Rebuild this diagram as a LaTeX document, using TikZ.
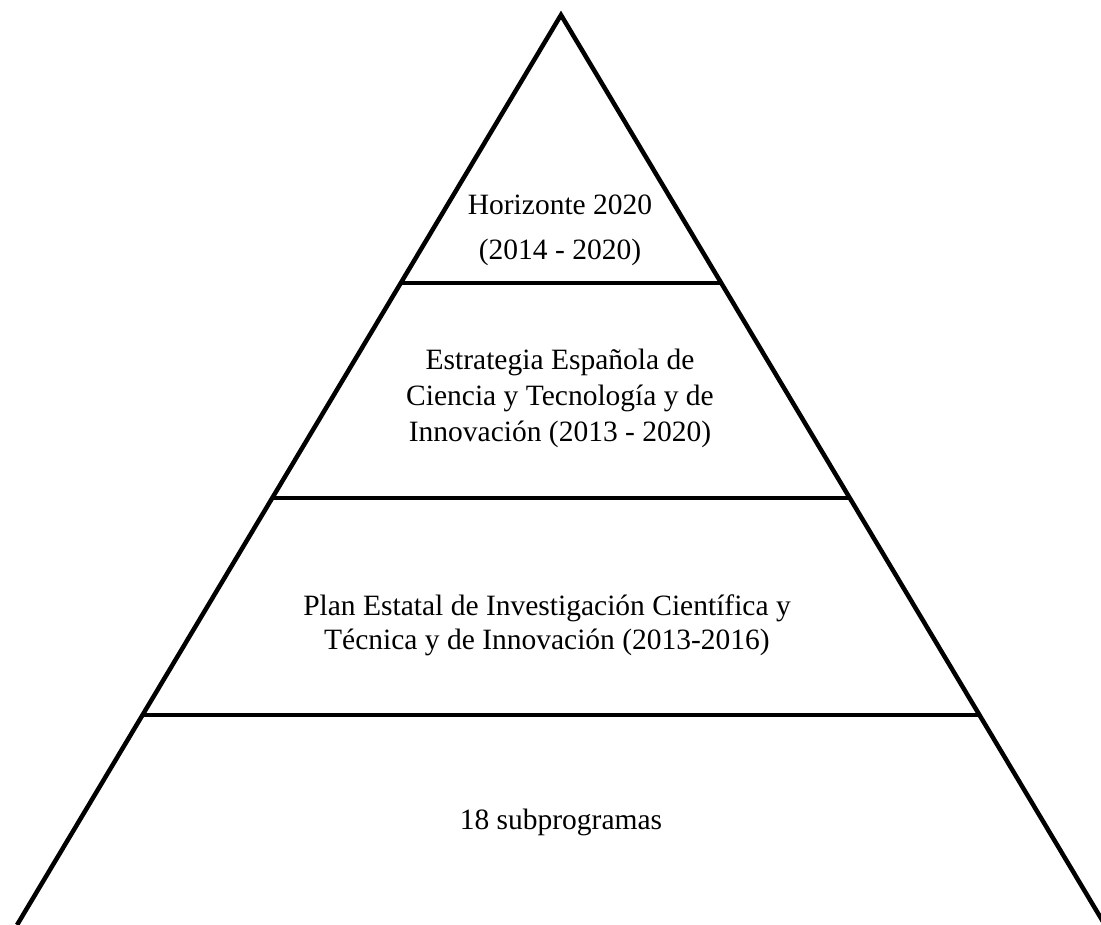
\documentclass[tikz,border=0pt]{standalone}
\usepackage{fontspec}
\setmainfont{Liberation Serif}
\begin{document}
\begin{tikzpicture}[
        x = 1pt, y = 1pt,
        edge/.style = {line width = 4.5pt, black},
        label/.style = {
          inner sep = 0mm, outer sep = 0mm, align = center,
          font = \fontsize{29.5}{36}\selectfont,
        }
      ]
      \useasboundingbox (0,0) rectangle (1101,925);

      \coordinate (top) at (561,910);
      \coordinate (L) at (17,0);
      \coordinate (R) at (1105,0);

      \draw[edge, line join = miter] (L) -- (top) -- (R);

      \path (top) -- (L) coordinate[pos = .2945] (l1)
                          coordinate[pos = .531] (l2)
                          coordinate[pos = .769] (l3);
      \path (top) -- (R) coordinate[pos = .2945] (r1)
                          coordinate[pos = .531] (r2)
                          coordinate[pos = .769] (r3);
      \draw[edge] (l1) -- (r1);
      \draw[edge] (l2) -- (r2);
      \draw[edge] (l3) -- (r3);

      \node[label, anchor = base] (h2020) at (560,710) {Horizonte 2020};
      \node[label, anchor = base] (years) at (560,665) {(2014 - 2020)};
      \node[label] (eecti) at (560,527)
        {Estrategia Española de\\Ciencia y Tecnología y de\\Innovación (2013 - 2020)};
      \node[label, font = \fontsize{29.5}{34}\selectfont] (peicti) at (547,300)
        {Plan Estatal de Investigación Científica y\\Técnica y de Innovación (2013-2016)};
      \node[label, anchor = base] (sub) at (561,95) {18 subprogramas};
    \end{tikzpicture}
\end{document}
